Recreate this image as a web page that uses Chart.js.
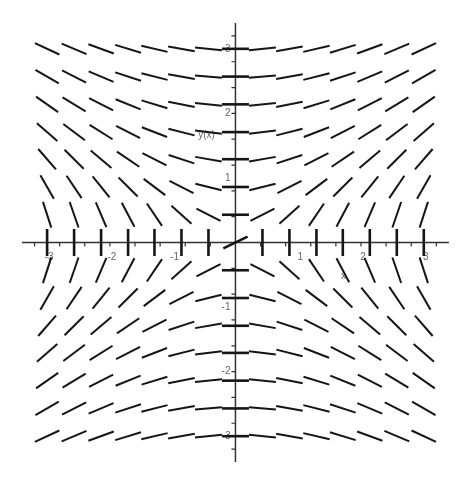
<!DOCTYPE html>
<html>
<head>
<meta charset="utf-8">
<script src="https://cdn.jsdelivr.net/npm/chart.js@4"></script>
<style>
  body { margin: 0; background: #fff; }
  #wrap { width: 465px; height: 485px; }
</style>
</head>
<body>
<div id="wrap"><canvas id="field" width="465" height="485"></canvas></div>
<script>
// grid of the direction field
const xValues = [-3, -2.57, -2.14, -1.71, -1.29, -0.86, -0.43, 0, 0.43, 0.86, 1.29, 1.71, 2.14, 2.57, 3];
const yValues = [3, 2.57, 2.14, 1.71, 1.29, 0.86, 0.43, 0, -0.43, -0.86, -1.29, -1.71, -2.14, -2.57, -3];

// slope angle of each little segment, degrees (rows = yValues, cols = xValues)
const angles = [
  [-25, -23, -20, -17, -13, -10, -6, 0, 6, 10, 13, 17, 20, 23, 25],
  [-30, -27, -23, -18, -14, -10, -5, 0, 5, 10, 14, 18, 23, 27, 30],
  [-35, -31, -27, -22, -17, -11, -6, 0, 6, 11, 17, 22, 27, 31, 35],
  [-41, -37, -32, -27, -21, -14, -7, 0, 7, 14, 21, 27, 32, 37, 41],
  [-49, -45, -40, -34, -27, -18, -10, 0, 10, 18, 27, 34, 40, 45, 49],
  [-60, -56, -51, -45, -37, -27, -14, 0, 14, 27, 37, 45, 51, 56, 60],
  [-72, -71, -67, -62, -56, -42, -27, 0, 27, 42, 56, 62, 67, 71, 72],
  [90, 90, 90, 90, 90, 90, 90, 26, 90, 90, 90, 90, 90, 90, 90],
  [72, 71, 67, 62, 56, 42, 27, 0, -27, -42, -56, -62, -67, -71, -72],
  [60, 56, 51, 45, 37, 27, 14, 0, -14, -27, -37, -45, -51, -56, -60],
  [49, 45, 40, 34, 27, 18, 10, 0, -10, -18, -27, -34, -40, -45, -49],
  [41, 37, 32, 27, 21, 14, 7, 0, -7, -14, -21, -27, -32, -37, -41],
  [35, 31, 27, 22, 17, 11, 6, 0, -6, -11, -17, -22, -27, -31, -35],
  [30, 27, 23, 18, 14, 10, 5, 0, -5, -10, -14, -18, -23, -27, -30],
  [25, 23, 20, 17, 13, 10, 6, 0, -6, -10, -13, -17, -20, -23, -25]
];

// axis tick labels
const xTickLabels = [-3, -2, -1, 1, 2, 3];
const yTickLabels = [3, 2, 1, -1, -2, -3];
const minorStep = 0.4;
const axisMin = -3.4;
const axisMax = 3.4;

// build points, rotations and widths (segments on the axes look heavier)
const points = [];
const rotations = [];
const widths = [];
yValues.forEach((y, r) => {
  xValues.forEach((x, c) => {
    points.push({ x: x, y: y });
    rotations.push(-angles[r][c]);
    widths.push(x === 0 || y === 0 ? 2.6 : 2);
  });
});

// ----------- AXES PLUGIN ----------- //
const axesPlugin = {
  id: "mapleAxes",
  beforeDatasetsDraw(chart) {
    const ctx = chart.ctx;
    const sx = chart.scales.x;
    const sy = chart.scales.y;
    const x0 = sx.getPixelForValue(0);
    const y0 = sy.getPixelForValue(0);
    ctx.save();
    ctx.strokeStyle = "#333";
    ctx.lineWidth = 1.5;
    ctx.beginPath();
    ctx.moveTo(sx.getPixelForValue(axisMin), y0);
    ctx.lineTo(sx.getPixelForValue(axisMax), y0);
    ctx.moveTo(x0, sy.getPixelForValue(axisMin));
    ctx.lineTo(x0, sy.getPixelForValue(axisMax));
    ctx.stroke();

    // minor ticks
    ctx.lineWidth = 1.2;
    ctx.beginPath();
    for (let k = -8; k <= 8; k++) {
      if (k === 0) continue;
      const v = k * minorStep;
      const px = sx.getPixelForValue(v);
      ctx.moveTo(px, y0);
      ctx.lineTo(px, y0 + 4);
      const py = sy.getPixelForValue(v);
      ctx.moveTo(x0, py);
      ctx.lineTo(x0 - 4, py);
    }
    ctx.stroke();

    // tick labels
    ctx.fillStyle = "#666";
    ctx.font = "10px 'Liberation Sans', sans-serif";
    ctx.textBaseline = "middle";
    ctx.textAlign = "center";
    xTickLabels.forEach(v => {
      ctx.fillText(String(v), sx.getPixelForValue(v) + 2, y0 + 15);
    });
    ctx.textAlign = "right";
    yTickLabels.forEach(v => {
      ctx.fillText(String(v), x0 - 5, sy.getPixelForValue(v));
    });

    // axis names
    ctx.textAlign = "center";
    ctx.fillText("y(x)", sx.getPixelForValue(-0.46), sy.getPixelForValue(1.66));
    ctx.fillText("x", sx.getPixelForValue(1.72), sy.getPixelForValue(-0.52));
    ctx.restore();
  }
};

new Chart(document.getElementById("field"), {
  type: "scatter",
  data: {
    datasets: [
      {
        data: points,
        showLine: false,
        pointStyle: "line",
        pointRadius: 13.5,
        pointRotation: rotations,
        borderColor: "#151515",
        backgroundColor: "#151515",
        borderWidth: widths,
        clip: false,
      },
    ],
  },
  options: {
    responsive: false,
    animation: false,
    events: [],
    layout: { padding: { left: 22, right: 5, top: 23, bottom: 23 } },
    plugins: {
      legend: { display: false },
      tooltip: { enabled: false },
    },
    scales: {
      x: { type: "linear", min: axisMin, max: axisMax, display: false },
      y: { type: "linear", min: axisMin, max: axisMax, display: false },
    },
  },
  plugins: [axesPlugin],
});
</script>
</body>
</html>
